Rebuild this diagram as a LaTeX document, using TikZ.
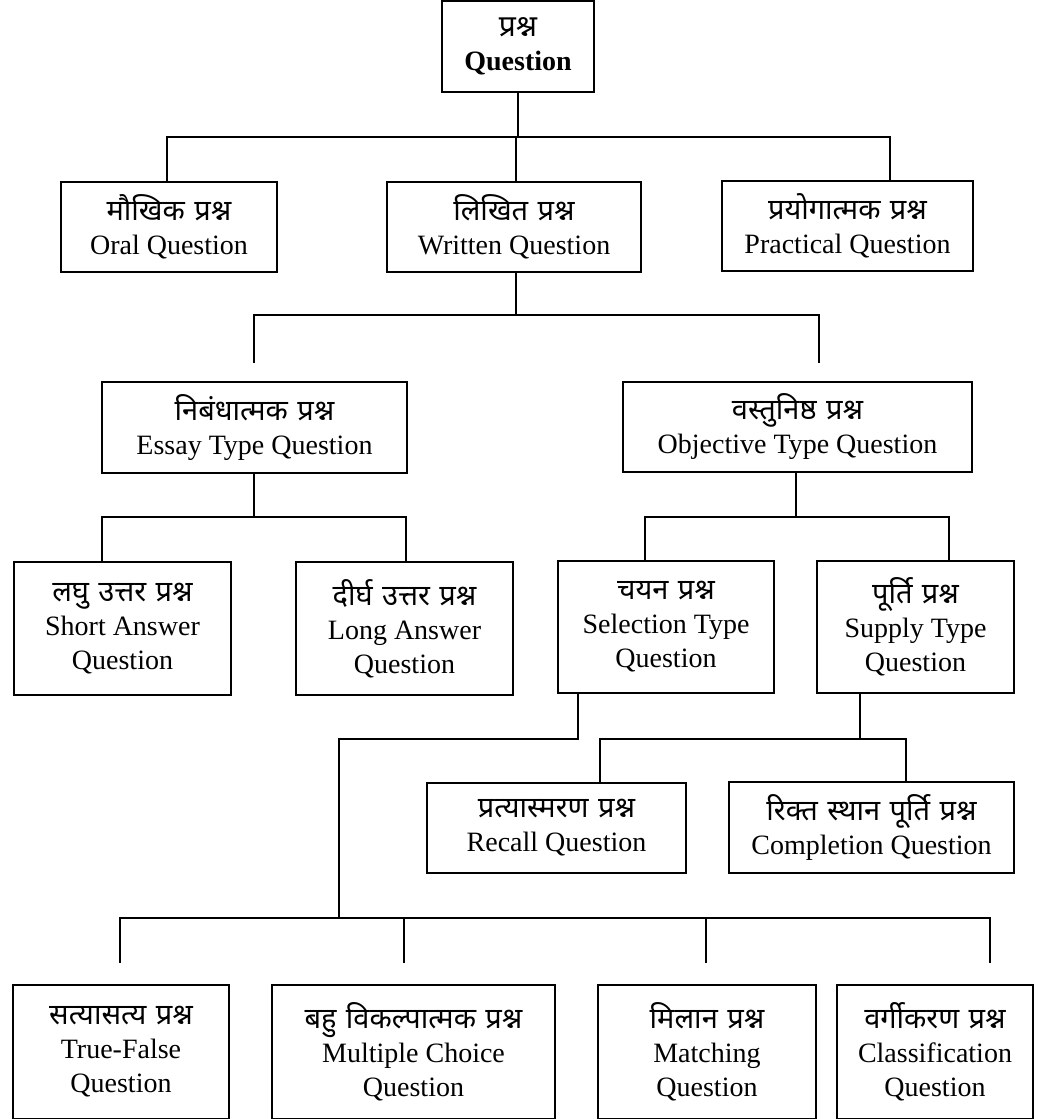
\documentclass[tikz,border=0pt]{standalone}
\usepackage{fontspec}
\setmainfont{Liberation Serif}
\newfontfamily\devfont[Script=Devanagari,WordSpace=1.25]{Noto Sans}
\newcommand\dv[1]{{\devfont\fontsize{29}{35}\selectfont #1}}
\begin{document}
\begin{tikzpicture}[x=1pt,y=-1pt,
  box/.style={draw, line width=2.2pt, align=center, inner sep=0pt,
    font=\fontsize{28}{34}\selectfont},
  conn/.style={line width=2.2pt, line cap=rect}]
\useasboundingbox (0,0) rectangle (1047,1119);
\fill[white] (0,0) rectangle (1047,1119);
% boxes
\node[box, minimum width=152pt, minimum height=91pt, font=\fontsize{28}{34}\selectfont\bfseries] (top) at (518,46.5) {{\devfont\fontsize{30}{35}\selectfont\bfseries प्रश्न}\\Question};
\node[box, minimum width=216pt, minimum height=90pt] (oral) at (169,227) {\dv{मौखिक प्रश्न}\\Oral Question};
\node[box, minimum width=254pt, minimum height=90pt] (written) at (514,227) {\dv{लिखित प्रश्न}\\Written Question};
\node[box, minimum width=251pt, minimum height=90pt] (practical) at (847.5,226) {\dv{प्रयोगात्मक प्रश्न}\\Practical Question};
\node[box, minimum width=305pt, minimum height=91pt] (essay) at (254.5,427.5) {\dv{निबंधात्मक प्रश्न}\\Essay Type Question};
\node[box, minimum width=349pt, minimum height=90pt] (objective) at (797.5,427) {\dv{वस्तुनिष्ठ प्रश्न}\\Objective Type Question};
\node[box, minimum width=217pt, minimum height=133pt] (short) at (122.5,628.5) {\dv{लघु उत्तर प्रश्न}\\Short Answer\\Question};
\node[box, minimum width=217pt, minimum height=133pt] (long) at (404.5,628.5) {\dv{दीर्घ उत्तर प्रश्न}\\Long Answer\\Question};
\node[box, minimum width=216pt, minimum height=132pt] (selection) at (666,627) {\dv{चयन प्रश्न}\\Selection Type\\Question};
\node[box, minimum width=197pt, minimum height=132pt] (supply) at (915.5,627) {\dv{पूर्ति प्रश्न}\\Supply Type\\Question};
\node[box, minimum width=259pt, minimum height=90pt] (recall) at (556.5,828) {\dv{प्रत्यास्मरण प्रश्न}\\Recall Question};
\node[box, minimum width=285pt, minimum height=91pt] (completion) at (871.5,827.5) {\dv{रिक्त स्थान पूर्ति प्रश्न}\\Completion Question};
\node[box, minimum width=216pt, minimum height=134pt] (truefalse) at (121,1052) {\dv{सत्यासत्य प्रश्न}\\True-False\\Question};
\node[box, minimum width=283pt, minimum height=134pt] (multiple) at (413.5,1052) {\dv{बहु विकल्पात्मक प्रश्न}\\Multiple Choice\\Question};
\node[box, minimum width=218pt, minimum height=134pt] (matching) at (707,1052) {\dv{मिलान प्रश्न}\\Matching\\Question};
\node[box, minimum width=196pt, minimum height=134pt] (classification) at (935,1052) {\dv{वर्गीकरण प्रश्न}\\Classification\\Question};
% bus coordinates
\coordinate (b1) at (518,137);
\coordinate (b1l) at (167,137);
\coordinate (b1m) at (516,137);
\coordinate (b1r) at (890,137);
\coordinate (b2) at (516,315);
\coordinate (b2l) at (254,315);
\coordinate (b2r) at (819,315);
\coordinate (e2l) at (254,362);
\coordinate (e2r) at (819,362);
\coordinate (b3) at (254,517);
\coordinate (b3l) at (102,517);
\coordinate (b3r) at (406,517);
\coordinate (b4) at (796,517);
\coordinate (b4l) at (645,517);
\coordinate (b4r) at (949,517);
\coordinate (s1) at (578,739);
\coordinate (s2) at (339,739);
\coordinate (s3) at (339,918);
\coordinate (b6l) at (120,918);
\coordinate (b6a) at (404,918);
\coordinate (b6b) at (706,918);
\coordinate (b6r) at (990,918);
\coordinate (e6l) at (120,962);
\coordinate (e6a) at (404,962);
\coordinate (e6b) at (706,962);
\coordinate (e6r) at (990,962);
\coordinate (u1) at (860,739);
\coordinate (u1l) at (600,739);
\coordinate (u1r) at (906,739);
% connectors
\draw[conn] (top.south) -- (b1);
\draw[conn] (b1l) -- (b1r);
\draw[conn] (b1l) -- (b1l |- oral.north);
\draw[conn] (b1m) -- (b1m |- written.north);
\draw[conn] (b1r) -- (b1r |- practical.north);
\draw[conn] (b2 |- written.south) -- (b2);
\draw[conn] (b2l) -- (b2r);
\draw[conn] (b2l) -- (e2l);
\draw[conn] (b2r) -- (e2r);
\draw[conn] (b3 |- essay.south) -- (b3);
\draw[conn] (b3l) -- (b3r);
\draw[conn] (b3l) -- (b3l |- short.north);
\draw[conn] (b3r) -- (b3r |- long.north);
\draw[conn] (b4 |- objective.south) -- (b4);
\draw[conn] (b4l) -- (b4r);
\draw[conn] (b4l) -- (b4l |- selection.north);
\draw[conn] (b4r) -- (b4r |- supply.north);
\draw[conn] (s1 |- selection.south) -- (s1) -- (s2) -- (s3);
\draw[conn] (b6l) -- (b6r);
\draw[conn] (b6l) -- (e6l);
\draw[conn] (b6a) -- (e6a);
\draw[conn] (b6b) -- (e6b);
\draw[conn] (b6r) -- (e6r);
\draw[conn] (u1 |- supply.south) -- (u1);
\draw[conn] (u1l) -- (u1r);
\draw[conn] (u1l) -- (u1l |- recall.north);
\draw[conn] (u1r) -- (u1r |- completion.north);
\end{tikzpicture}
\end{document}
